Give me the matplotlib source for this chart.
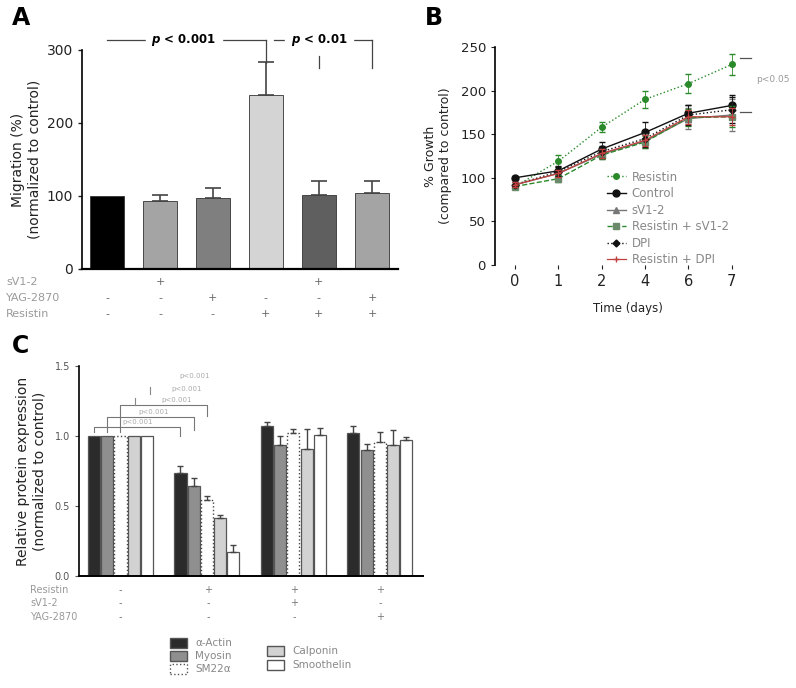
import matplotlib
matplotlib.use("Agg")
import matplotlib.pyplot as plt
import numpy as np
from matplotlib.patches import Rectangle

W, H = 796, 688

# ---------------- Panel A data ----------------
a_values = [100, 93, 97, 239, 101, 104]
a_err = [0, 9, 14, 45, 20, 17]
a_colors = ["#000000", "#a4a4a4", "#7f7f7f", "#d4d4d4", "#5f5f5f", "#a4a4a4"]
a_rows = ["sV1-2", "YAG-2870", "Resistin"]
a_signs = [["", "+", "", "", "+", ""],
           ["-", "-", "+", "-", "-", "+"],
           ["-", "-", "-", "+", "+", "+"]]
a_yticks = [0, 100, 200, 300]

# ---------------- Panel B data ----------------
b_days = ["0", "1", "2", "4", "6", "7"]
b_series = {
    "Resistin": [90, 119, 158, 190, 208, 230],
    "Control": [100, 108, 133, 152, 174, 183],
    "sV1-2": [92, 105, 127, 142, 168, 172],
    "Resistin + sV1-2": [90, 99, 126, 141, 169, 170],
    "DPI": [92, 107, 130, 145, 172, 178],
    "Resistin + DPI": [92, 105, 128, 143, 170, 170],
}
b_err = {
    "Resistin": [3, 7, 6, 10, 11, 12],
    "Control": [2, 5, 8, 12, 10, 12],
    "sV1-2": [3, 4, 6, 8, 12, 18],
    "Resistin + sV1-2": [3, 4, 5, 7, 10, 12],
    "DPI": [3, 5, 7, 10, 12, 15],
    "Resistin + DPI": [3, 4, 5, 6, 8, 10],
}
b_yticks = [0, 50, 100, 150, 200, 250]

# ---------------- Panel C data ----------------
c_groups = 4
c_proteins = ["\u03b1-Actin", "Myosin", "SM22\u03b1", "Calponin", "Smoothelin"]
c_values = [[1.0, 1.0, 1.0, 1.0, 1.0],
            [0.735, 0.64, 0.54, 0.415, 0.175],
            [1.075, 0.935, 1.02, 0.91, 1.01],
            [1.02, 0.90, 0.955, 0.935, 0.975]]
c_err = [[0, 0, 0, 0, 0],
         [0.05, 0.06, 0.03, 0.02, 0.045],
         [0.025, 0.065, 0.03, 0.14, 0.05],
         [0.05, 0.04, 0.075, 0.11, 0.015]]
c_colors = ["#2b2b2b", "#8f8f8f", "#ffffff", "#d2d2d2", "#ffffff"]
c_rows = ["Resistin", "sV1-2", "YAG-2870"]
c_signs = [["-", "+", "+", "+"],
           ["-", "-", "+", "-"],
           ["-", "-", "-", "+"]]
c_yticks = [0.0, 0.5, 1.0, 1.5]
c_sig_labels = ["p<0.001", "p<0.001", "p<0.001", "p<0.001", "p<0.001"]

fig = plt.figure(figsize=(W / 100, H / 100), dpi=100)
plt.rcParams['font.family'] = ['DejaVu Sans']


def ax_rect(x0, x1, ytop, ybot):
    return [x0 / W, 1 - ybot / H, (x1 - x0) / W, (ybot - ytop) / H]


def ftext(x, y, s, **kw):
    fig.text(x / W, 1 - y / H, s, **kw)


# ======================= Panel A =======================
axA = fig.add_axes(ax_rect(82, 398, 50, 269))
xa = np.arange(len(a_values))
axA.bar(xa, a_values, width=0.64, color=a_colors, edgecolor="#333333", linewidth=0.6, zorder=2)
for i, (v, e) in enumerate(zip(a_values, a_err)):
    if e > 0:
        axA.errorbar(i, v, yerr=[[0], [e]], color="#444444", capsize=6, elinewidth=1.2, capthick=1.2, zorder=3)
axA.set_xlim(-0.47, 5.49)
axA.set_ylim(0, 300)
axA.set_yticks(a_yticks)
axA.tick_params(axis="y", labelsize=10, length=3, width=1, colors="#222222")
axA.set_xticks([])
for s in ["top", "right"]:
    axA.spines[s].set_visible(False)
axA.spines["left"].set_linewidth(1.2)
axA.spines["bottom"].set_linewidth(1.6)
axA.set_ylabel("Migration (%)\n(normalized to control)", fontsize=10, color="#222222", labelpad=4)

ybr = 313.5
axA.plot([0, 3], [ybr, ybr], color="#444444", lw=0.9, clip_on=False)
axA.plot([3, 3], [ybr, 282], color="#444444", lw=0.9, clip_on=False)
axA.text(1.45, ybr, "$\\boldsymbol{p}$ < 0.001", ha="center", va="center", fontsize=8.5,
         fontweight="bold", backgroundcolor="white")
axA.plot([3.15, 5], [ybr, ybr], color="#444444", lw=0.9, clip_on=False)
axA.plot([5, 5], [ybr, 275], color="#444444", lw=0.9, clip_on=False)
axA.plot([4, 4], [292, 275], color="#444444", lw=0.9, clip_on=False)
axA.text(4.0, ybr, "$\\boldsymbol{p}$ < 0.01", ha="center", va="center", fontsize=8.5,
         fontweight="bold", backgroundcolor="white")

row_y_A = [282, 298, 314]
bar_px_A = [107, 160, 212.5, 265.5, 318, 372]
for r, lab in enumerate(a_rows):
    ftext(6, row_y_A[r], lab, fontsize=8, color="#9a9a9a", va="center")
    for i, s in enumerate(a_signs[r]):
        if s:
            ftext(bar_px_A[i], row_y_A[r], s, fontsize=8, color="#666666", ha="center", va="center")

ftext(12, 18, "A", fontsize=17, fontweight="bold", va="center")

# ======================= Panel B =======================
axB = fig.add_axes(ax_rect(495, 760, 47, 265))
xb = np.arange(len(b_days))
green = "#2a8a2a"
styles = {
    "Resistin": dict(color=green, ls=":", marker="o", ms=4, lw=1.0),
    "Control": dict(color="#111111", ls="-", marker="o", ms=5, lw=1.0),
    "sV1-2": dict(color="#777777", ls="-", marker="^", ms=4, lw=1.0),
    "Resistin + sV1-2": dict(color=green, ls="--", marker="s", ms=4, lw=1.0,
                             markerfacecolor="#6a8a6a"),
    "DPI": dict(color="#111111", ls=":", marker="D", ms=3.5, lw=1.0),
    "Resistin + DPI": dict(color="#c04040", ls="-", marker="+", ms=4, lw=0.9),
}
for name, vals in b_series.items():
    st = styles[name]
    mfc = st.get("markerfacecolor", st["color"])
    axB.errorbar(xb, vals, yerr=b_err[name], fmt="none", ecolor=st["color"], capsize=2,
                 elinewidth=0.6)
    axB.plot(xb, vals, color=st["color"], ls=st["ls"], lw=st["lw"], marker=st["marker"],
             ms=st["ms"], markerfacecolor=mfc, markeredgecolor=mfc, label=name)
axB.set_xlim(-0.46, 5.65)
axB.set_ylim(0, 250)
axB.set_yticks(b_yticks)
axB.set_xticks(xb)
axB.set_xticklabels(b_days)
axB.tick_params(axis="y", labelsize=9.5, length=3, colors="#222222")
axB.tick_params(axis="x", labelsize=10.5, length=3, colors="#222222")
for s in ["top", "right", "bottom"]:
    axB.spines[s].set_visible(False)
axB.spines["left"].set_linewidth(1.2)
axB.set_xlabel("Time (days)", fontsize=8.5, color="#222222", labelpad=9)
axB.set_ylabel("% Growth\n(compared to control)", fontsize=9, color="#222222", labelpad=6)
leg = axB.legend(loc="upper left", bbox_to_anchor=(0.40, 0.46), fontsize=8.5, frameon=False,
                 handlelength=1.6, labelspacing=0.3, borderpad=0, handletextpad=0.5)
for t in leg.get_texts():
    t.set_color("#888888")
axB.plot([5.2, 5.45], [237, 237], color="#555555", lw=0.9, clip_on=False)
axB.plot([5.2, 5.45], [176, 176], color="#555555", lw=0.9, clip_on=False)
axB.text(5.55, 213, "p<0.05", fontsize=6.5, color="#999999", va="center", clip_on=False)

ftext(425, 18, "B", fontsize=17, fontweight="bold", va="center")

# ======================= Panel C =======================
axC = fig.add_axes(ax_rect(79, 423, 366, 576))
nprot = len(c_proteins)
offs = (np.arange(nprot) - 2) * 0.153
xc = np.arange(c_groups)
for p in range(nprot):
    vals = [c_values[g][p] for g in range(c_groups)]
    errs = [c_err[g][p] for g in range(c_groups)]
    kw = dict(width=0.14, color=c_colors[p], edgecolor="#555555", linewidth=0.9, zorder=2)
    if p == 2:
        kw.update(edgecolor="#444444", linestyle=":", linewidth=1.0)
    axC.bar(xc + offs[p], vals, label=c_proteins[p], **kw)
    for g in range(c_groups):
        if errs[g] > 0:
            axC.errorbar(xc[g] + offs[p], vals[g], yerr=[[0], [errs[g]]], color="#444444",
                         capsize=2.5, elinewidth=1.0, capthick=1.0, zorder=3)
axC.set_xlim(-0.48, 3.5)
axC.set_ylim(0, 1.5)
axC.set_yticks(c_yticks)
axC.set_yticklabels(["0.0", "0.5", "1.0", "1.5"])
axC.set_xticks([])
axC.tick_params(axis="y", labelsize=7, length=3, colors="#555555")
for s in ["top", "right"]:
    axC.spines[s].set_visible(False)
axC.spines["left"].set_linewidth(1.2)
axC.spines["bottom"].set_linewidth(1.4)
axC.set_ylabel("Relative protein expression\n(normalized to control)", fontsize=10,
               color="#222222", labelpad=6)

brk = [(0 + offs[0], 1 + offs[0], 1.064, 1.0), (0 + offs[1], 1 + offs[1], 1.136, 1.04),
       (0 + offs[2], 1 + offs[2], 1.22, 1.14)]
for (x0, x1, yb, yend) in brk:
    axC.plot([x0, x0, x1, x1], [1.03, yb, yb, yend], color="#777777", lw=0.8, clip_on=False)
sig_pos = [(0.20, 1.08), (0.38, 1.15), (0.65, 1.235), (0.77, 1.315), (0.86, 1.405)]
for (lx, ly), lab in zip(sig_pos, c_sig_labels):
    axC.text(lx, ly, lab, fontsize=5, color="#aaaaaa", ha="center", va="bottom", clip_on=False)
axC.plot([0.17, 0.17], [1.22, 1.27], color="#888888", lw=0.8, clip_on=False)
axC.plot([0.34, 0.34], [1.30, 1.35], color="#888888", lw=0.8, clip_on=False)

row_y_C = [590, 603, 617]
grp_px_C = [120, 208, 294, 380]
for r, lab in enumerate(c_rows):
    ftext(30, row_y_C[r], lab, fontsize=7, color="#999999", va="center")
    for g, s in enumerate(c_signs[r]):
        ftext(grp_px_C[g], row_y_C[r], s, fontsize=7, color="#777777", ha="center", va="center")

leg_items = [(170, 643, 0), (170, 656, 1), (170, 669, 2), (267, 651, 3), (267, 665, 4)]
for (x, y, p) in leg_items:
    rect = Rectangle((x / W, 1 - (y + 5) / H), 17 / W, 10 / H, transform=fig.transFigure,
                     facecolor=c_colors[p], edgecolor="#555555",
                     linestyle=":" if p == 2 else "-", linewidth=1.0)
    fig.patches.append(rect)
    ftext(x + 25, y, c_proteins[p], fontsize=7.5, color="#888888", va="center")

ftext(12, 346, "C", fontsize=17, fontweight="bold", va="center")

fig.savefig("out.png", dpi=100)
